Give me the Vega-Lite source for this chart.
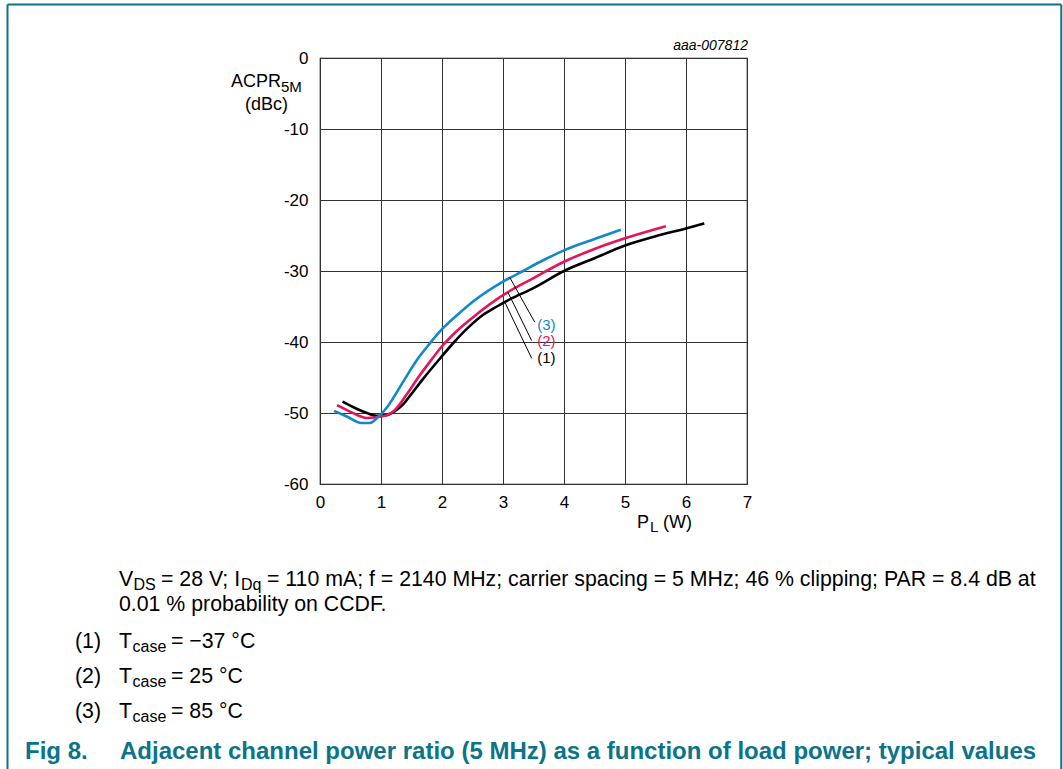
{
  "$schema": "https://vega.github.io/schema/vega-lite/v6.json",
  "width": 427,
  "height": 426,
  "autosize": {"type": "none"},
  "padding": {"left": 320, "top": 58, "right": 316, "bottom": 285},
  "background": "white",
  "config": {
    "font": "Liberation Sans",
    "view": {"stroke": "#111111", "strokeWidth": 1.2}
  },
  "datasets": {
    "curves": [
      {"series": "1", "x": 0.37, "y": -48.4}, {"series": "1", "x": 0.6, "y": -49.4}, {"series": "1", "x": 0.77, "y": -50.0},
      {"series": "1", "x": 0.93, "y": -50.4}, {"series": "1", "x": 1.09, "y": -50.3}, {"series": "1", "x": 1.25, "y": -49.6},
      {"series": "1", "x": 1.37, "y": -48.7}, {"series": "1", "x": 1.5, "y": -47.3}, {"series": "1", "x": 1.69, "y": -45.2},
      {"series": "1", "x": 1.97, "y": -42.3}, {"series": "1", "x": 2.2, "y": -40.0}, {"series": "1", "x": 2.45, "y": -37.8},
      {"series": "1", "x": 2.67, "y": -36.2}, {"series": "1", "x": 2.9, "y": -35.0}, {"series": "1", "x": 3.11, "y": -34.0},
      {"series": "1", "x": 3.5, "y": -32.4}, {"series": "1", "x": 4.0, "y": -30.0}, {"series": "1", "x": 4.5, "y": -28.2},
      {"series": "1", "x": 5.0, "y": -26.4}, {"series": "1", "x": 5.5, "y": -25.1}, {"series": "1", "x": 6.0, "y": -24.0},
      {"series": "1", "x": 6.3, "y": -23.3},
      {"series": "2", "x": 0.28, "y": -48.9}, {"series": "2", "x": 0.49, "y": -49.8}, {"series": "2", "x": 0.77, "y": -50.7},
      {"series": "2", "x": 1.01, "y": -50.5}, {"series": "2", "x": 1.2, "y": -49.8}, {"series": "2", "x": 1.42, "y": -47.4},
      {"series": "2", "x": 1.61, "y": -45.0}, {"series": "2", "x": 1.8, "y": -42.8}, {"series": "2", "x": 2.0, "y": -40.6},
      {"series": "2", "x": 2.2, "y": -38.8}, {"series": "2", "x": 2.51, "y": -36.5}, {"series": "2", "x": 3.0, "y": -33.4},
      {"series": "2", "x": 3.5, "y": -31.0}, {"series": "2", "x": 4.0, "y": -28.7}, {"series": "2", "x": 4.5, "y": -26.9},
      {"series": "2", "x": 5.0, "y": -25.4}, {"series": "2", "x": 5.67, "y": -23.7},
      {"series": "3", "x": 0.23, "y": -49.7}, {"series": "3", "x": 0.44, "y": -50.5}, {"series": "3", "x": 0.68, "y": -51.4},
      {"series": "3", "x": 0.82, "y": -51.4}, {"series": "3", "x": 0.96, "y": -50.5}, {"series": "3", "x": 1.09, "y": -49.3},
      {"series": "3", "x": 1.25, "y": -47.2}, {"series": "3", "x": 1.42, "y": -44.8}, {"series": "3", "x": 1.6, "y": -42.4},
      {"series": "3", "x": 1.8, "y": -40.2}, {"series": "3", "x": 2.0, "y": -38.2}, {"series": "3", "x": 2.25, "y": -36.2},
      {"series": "3", "x": 2.51, "y": -34.3}, {"series": "3", "x": 3.0, "y": -31.5}, {"series": "3", "x": 3.33, "y": -30.0},
      {"series": "3", "x": 3.61, "y": -28.7}, {"series": "3", "x": 4.0, "y": -27.1}, {"series": "3", "x": 4.5, "y": -25.5},
      {"series": "3", "x": 4.93, "y": -24.2}
    ],
    "leaders": [
      {"x": 3.11, "y": -30.9, "x2": 3.52, "y2": -37.2},
      {"x": 3.08, "y": -33.0, "x2": 3.47, "y2": -39.8},
      {"x": 3.03, "y": -34.4, "x2": 3.47, "y2": -42.3}
    ],
    "labels": [
      {"series": "3", "text": "(3)", "x": 3.56, "y": -38.31},
      {"series": "2", "text": "(2)", "x": 3.56, "y": -40.63},
      {"series": "1", "text": "(1)", "x": 3.56, "y": -42.96}
    ],
    "notes": [
      {"role": "axis", "text": "ACPR", "x": -1.459, "y": -4.085},
      {"role": "axissub", "text": "5M", "x": -0.639, "y": -4.789},
      {"role": "axis", "text": "(dBc)", "x": -1.23, "y": -7.324},
      {"role": "axis", "text": "P", "x": 5.197, "y": -66.2},
      {"role": "axissub", "text": "L", "x": 5.41, "y": -66.76},
      {"role": "axis", "text": "(W)", "x": 5.623, "y": -66.2},
      {"role": "cap", "text": "V", "x": -3.295, "y": -74.366},
      {"role": "capsub", "text": "DS", "x": -3.057, "y": -74.93},
      {"role": "cap", "text": "= 28 V; I", "x": -2.607, "y": -74.366},
      {"role": "capsub", "text": "Dq", "x": -1.295, "y": -74.93},
      {"role": "cap", "text": "= 110 mA; f = 2140 MHz; carrier spacing = 5 MHz; 46 % clipping; PAR = 8.4 dB at", "x": -0.869, "y": -74.366},
      {"role": "cap", "text": "0.01 % probability on CCDF.", "x": -3.295, "y": -77.887},
      {"role": "cap", "text": "(1)", "x": -4.016, "y": -83.099},
      {"role": "cap", "text": "T", "x": -3.295, "y": -83.099},
      {"role": "capsub", "text": "case", "x": -3.074, "y": -83.662},
      {"role": "cap", "text": "= −37 °C", "x": -2.443, "y": -83.099},
      {"role": "cap", "text": "(2)", "x": -4.016, "y": -88.028},
      {"role": "cap", "text": "T", "x": -3.295, "y": -88.028},
      {"role": "capsub", "text": "case", "x": -3.074, "y": -88.592},
      {"role": "cap", "text": "= 25 °C", "x": -2.443, "y": -88.028},
      {"role": "cap", "text": "(3)", "x": -4.016, "y": -92.958},
      {"role": "cap", "text": "T", "x": -3.295, "y": -92.958},
      {"role": "capsub", "text": "case", "x": -3.074, "y": -93.521},
      {"role": "cap", "text": "= 85 °C", "x": -2.443, "y": -92.958},
      {"role": "head", "text": "Fig 8.", "x": -4.836, "y": -98.732},
      {"role": "head", "text": "Adjacent channel power ratio (5 MHz) as a function of load power; typical values", "x": -3.279, "y": -98.732},
      {"role": "code", "text": "aaa-007812", "x": 7.016, "y": 1.127}
    ],
    "frame": [
      {"x": -5.123, "y": 7.535, "x2": 12.152, "y2": 7.535},
      {"x": -5.123, "y": 7.535, "x2": -5.123, "y2": -105},
      {"x": 12.152, "y": 7.535, "x2": 12.152, "y2": -105}
    ]
  },
  "encoding": {
    "x": {
      "field": "x", "type": "quantitative",
      "scale": {"domain": [0, 7], "nice": false, "zero": false},
      "axis": {
        "values": [0, 1, 2, 3, 4, 5, 6, 7], "grid": true, "gridColor": "#333333", "gridWidth": 1, "gridOpacity": 1,
        "domain": false, "ticks": false, "labelFontSize": 17, "labelColor": "#000000", "labelPadding": 10,
        "labelFlush": false, "labelOverlap": false, "title": null, "format": "d"
      }
    },
    "y": {
      "field": "y", "type": "quantitative",
      "scale": {"domain": [-60, 0], "nice": false, "zero": false},
      "axis": {
        "values": [-60, -50, -40, -30, -20, -10, 0], "grid": true, "gridColor": "#333333", "gridWidth": 1, "gridOpacity": 1,
        "domain": false, "ticks": false, "labelFontSize": 17, "labelColor": "#000000", "labelPadding": 12,
        "labelFlush": false, "labelOverlap": false, "title": null,
        "labelExpr": "datum.value == 0 ? '0' : '-' + abs(datum.value)"
      }
    }
  },
  "layer": [
    {
      "data": {"name": "curves"},
      "mark": {"type": "line", "strokeWidth": 2.6, "interpolate": "monotone", "clip": false},
      "encoding": {
        "color": {"field": "series", "type": "nominal", "scale": {"domain": ["1", "2", "3"], "range": ["#000000", "#e6145a", "#1188cc"]}, "legend": null}
      }
    },
    {
      "data": {"name": "leaders"},
      "mark": {"type": "rule", "color": "#000000", "strokeWidth": 1},
      "encoding": {"x2": {"field": "x2"}, "y2": {"field": "y2"}}
    },
    {
      "data": {"name": "labels"},
      "mark": {"type": "text", "align": "left", "baseline": "alphabetic", "fontSize": 15},
      "encoding": {
        "text": {"field": "text"},
        "color": {"field": "series", "type": "nominal", "legend": null}
      }
    },
    {
      "data": {"name": "notes"},
      "transform": [{"filter": "datum.role == 'axis'"}],
      "mark": {"type": "text", "align": "left", "baseline": "alphabetic", "fontSize": 18, "color": "#000000"},
      "encoding": {"text": {"field": "text"}}
    },
    {
      "data": {"name": "notes"},
      "transform": [{"filter": "datum.role == 'axissub'"}],
      "mark": {"type": "text", "align": "left", "baseline": "alphabetic", "fontSize": 15, "color": "#000000"},
      "encoding": {"text": {"field": "text"}}
    },
    {
      "data": {"name": "notes"},
      "transform": [{"filter": "datum.role == 'code'"}],
      "mark": {"type": "text", "align": "right", "baseline": "alphabetic", "fontSize": 14, "fontStyle": "italic", "color": "#000000"},
      "encoding": {"text": {"field": "text"}}
    },
    {
      "data": {"name": "notes"},
      "transform": [{"filter": "datum.role == 'cap'"}],
      "mark": {"type": "text", "align": "left", "baseline": "alphabetic", "fontSize": 21.3, "color": "#000000"},
      "encoding": {"text": {"field": "text"}}
    },
    {
      "data": {"name": "notes"},
      "transform": [{"filter": "datum.role == 'capsub'"}],
      "mark": {"type": "text", "align": "left", "baseline": "alphabetic", "fontSize": 16, "color": "#000000"},
      "encoding": {"text": {"field": "text"}}
    },
    {
      "data": {"name": "notes"},
      "transform": [{"filter": "datum.role == 'head'"}],
      "mark": {"type": "text", "align": "left", "baseline": "alphabetic", "fontSize": 24, "fontWeight": "bold", "color": "#0a7489"},
      "encoding": {"text": {"field": "text"}}
    },
    {
      "data": {"name": "frame"},
      "mark": {"type": "rule", "color": "#0a7489", "strokeWidth": 2},
      "encoding": {"x2": {"field": "x2"}, "y2": {"field": "y2"}}
    }
  ]
}
